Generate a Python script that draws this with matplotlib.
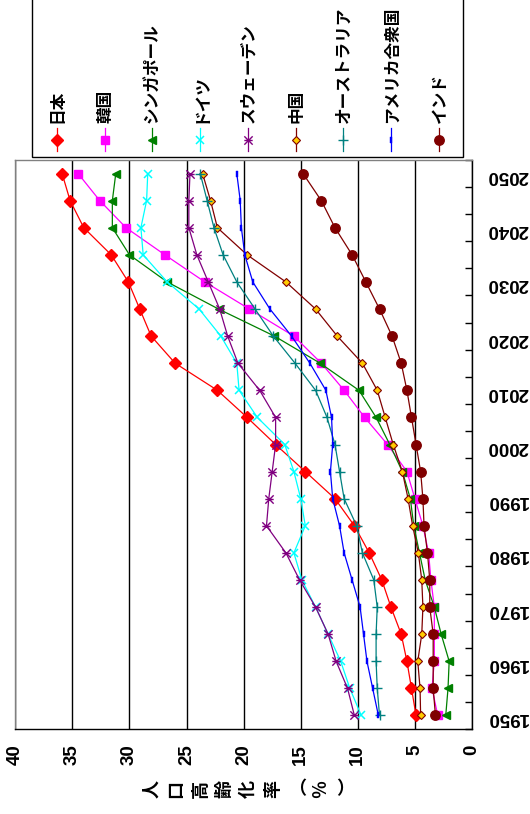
import matplotlib
matplotlib.use("Agg")
import matplotlib.pyplot as plt
from matplotlib.path import Path
import numpy as np

# ---- data: share of population aged 65+ (%) ----
years = list(range(1950, 2051, 5))
year_labels = list(range(1950, 2051, 10))
value_ticks = list(range(0, 41, 5))

japan = [4.9, 5.3, 5.7, 6.2, 7.1, 7.9, 9.0, 10.3, 12.0, 14.6, 17.2,
         19.7, 22.3, 26.0, 28.1, 29.1, 30.1, 31.6, 34.0, 35.2, 35.9]
korea = [3.0, 3.5, 3.3, 3.3, 3.3, 3.6, 3.8, 4.3, 5.0, 5.7, 7.4,
         9.4, 11.2, 13.2, 15.6, 19.5, 23.4, 26.9, 30.3, 32.6, 34.5]
singapore = [2.3, 2.1, 2.0, 2.7, 3.3, 4.1, 4.6, 5.1, 5.4, 6.1, 7.2,
             8.4, 9.9, 13.3, 17.3, 22.2, 26.7, 30.0, 31.5, 31.5, 31.2]
germany = [9.7, 10.7, 11.5, 12.6, 13.7, 14.9, 15.6, 14.6, 15.0, 15.6, 16.4,
           18.8, 20.4, 20.6, 22.0, 23.9, 26.7, 28.8, 29.0, 28.5, 28.4]
sweden = [10.3, 10.9, 11.9, 12.6, 13.7, 15.1, 16.3, 18.0, 17.8, 17.5, 17.2,
          17.2, 18.6, 20.5, 21.4, 22.1, 23.1, 24.1, 24.8, 24.8, 24.7]
china = [4.5, 4.55, 4.75, 4.4, 4.3, 4.4, 4.7, 5.2, 5.6, 6.1, 6.9,
         7.6, 8.3, 9.6, 11.8, 13.7, 16.3, 19.7, 22.3, 22.9, 23.6]
australia = [8.1, 8.3, 8.4, 8.4, 8.3, 8.6, 9.6, 10.1, 11.2, 11.6, 12.0,
             12.7, 13.7, 15.5, 17.4, 19.0, 20.6, 21.8, 22.6, 23.2, 23.8]
usa = [8.2, 8.7, 9.2, 9.5, 9.8, 10.5, 11.2, 11.6, 12.2, 12.4, 12.2,
       12.3, 12.8, 14.2, 15.8, 17.7, 19.2, 19.9, 20.2, 20.3, 20.6]
india = [3.2, 3.4, 3.4, 3.4, 3.7, 3.7, 3.9, 4.2, 4.3, 4.5, 4.9,
         5.3, 5.7, 6.2, 7.0, 8.1, 9.3, 10.5, 12.0, 13.2, 14.8]

axis_title = "人口高齢化率（％）"

# ---- marker shapes ----
star_marker = Path([(-1, -1), (1, 1), (-1, 1), (1, -1), (-1, 0), (1, 0)],
                   [Path.MOVETO, Path.LINETO, Path.MOVETO, Path.LINETO,
                    Path.MOVETO, Path.LINETO])
bar_marker = [(-0.35, -1), (0.35, -1), (0.35, 1), (-0.35, 1), (-0.35, -1)]

series = [
    ("日本", japan, dict(color="#FF0000", marker="D", ms=5.8, mfc="#FF0000", mec="#FF0000")),
    ("韓国", korea, dict(color="#FF00FF", marker="s", ms=5.8, mfc="#FF00FF", mec="#FF00FF")),
    ("シンガポール", singapore, dict(color="#008000", marker="<", ms=6.3, mfc="#008000", mec="#008000")),
    ("ドイツ", germany, dict(color="#00FFFF", marker="x", ms=6, mec="#00FFFF", mew=1.1)),
    ("スウェーデン", sweden, dict(color="#800080", marker=star_marker, ms=6, mec="#800080", mew=1.0)),
    ("中国", china, dict(color="#800000", marker="D", ms=4.4, mfc="#FFCC00", mec="#800000", mew=0.8)),
    ("オーストラリア", australia, dict(color="#008080", marker="+", ms=7, mec="#008080", mew=1.0)),
    ("アメリカ合衆国", usa, dict(color="#0000FF", marker=bar_marker, ms=5, mfc="#0000FF", mec="#0000FF", mew=0.3)),
    ("インド", india, dict(color="#800000", marker="o", ms=6.8, mfc="#800000", mec="#800000")),
]

W, H = 530, 814
fig = plt.figure(figsize=(W / 100, H / 100), dpi=100)
fig.patch.set_facecolor("white")

num_font = dict(family=["Liberation Sans", "DejaVu Sans"], weight="bold", size=13.5)
jp_font = dict(family=["Noto Sans CJK JP", "DejaVu Sans"], weight="bold", size=12)

# ---- main plot: years run bottom-to-top, percentages run right-to-left ----
ax = fig.add_axes([15.3 / W, (H - 729) / H, (472 - 15.3) / W, (729 - 160) / H])
for name, vals, st in series:
    ax.plot(vals, years, lw=0.9, zorder=3, **st)

ax.set_xlim(40, 0)
ax.set_ylim(years[0] - 2.5, years[-1] + 2.5)

ax.set_xticks(value_ticks)
ax.set_xticklabels([str(v) for v in value_ticks], rotation=90, fontdict=num_font)
ax.tick_params(axis="x", length=0, pad=11)
ax.xaxis.grid(True, color="black", lw=1.0, zorder=1)

ax.yaxis.tick_right()
ax.set_yticks(year_labels)
ax.set_yticklabels([str(y) for y in year_labels], rotation=180, fontdict=num_font)
ax.set_yticks(np.arange(years[0] - 2.5, years[-1] + 3, 5), minor=True)
ax.tick_params(axis="y", which="major", length=0, pad=10.5, left=False)
ax.tick_params(axis="y", which="minor", length=5, direction="in",
               right=True, left=False, width=1, color="black")

for side, col in [("top", "#808080"), ("left", "#808080"),
                  ("bottom", "black"), ("right", "black")]:
    ax.spines[side].set_color(col)
    ax.spines[side].set_linewidth(1.0)

# ---- overlay in pixel coordinates for legend and axis title ----
ov = fig.add_axes([0, 0, 1, 1])
ov.set_xlim(0, W)
ov.set_ylim(H, 0)
ov.axis("off")
ov.patch.set_visible(False)

ov.add_patch(plt.Rectangle((31.7, -5), 463.3 - 31.7, 157.3 + 5, fill=False,
                           edgecolor="black", lw=1.0))
for i, (name, vals, st) in enumerate(series):
    x = 56.7 + i * 47.8
    ov.plot([x, x, x], [128, 139.5, 151], lw=0.9, markevery=[1], **st)
    ov.text(x + 0.5, 123, name, rotation=90, ha="center", va="bottom", **jp_font)

# stacked axis title, each glyph turned with the chart
title_font = dict(jp_font, size=13)
for j, ch in enumerate(axis_title):
    rot = 0 if ch in "（）" else 90
    ov.text(151.5 + j * 24.2, 789, ch, rotation=rot, ha="center", va="center", **title_font)

fig.savefig("out.png", dpi=100, facecolor="white")
